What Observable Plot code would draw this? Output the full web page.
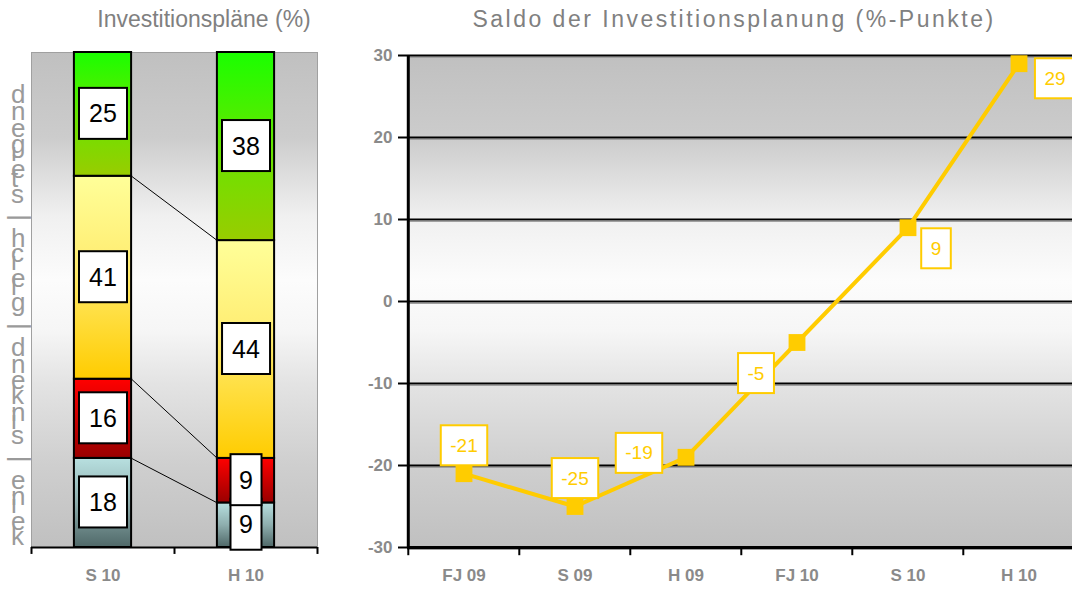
<!DOCTYPE html>
<html><head><meta charset="utf-8">
<script src="https://cdn.jsdelivr.net/npm/d3@7"></script>
<script src="https://cdn.jsdelivr.net/npm/@observablehq/plot@0.6"></script>
<style>
body{margin:0;background:#fff;font-family:"Liberation Sans",Arial,sans-serif;}
#wrap{position:relative;width:1072px;height:589px;overflow:hidden;background:#fff;}
.title{position:absolute;top:6px;font-size:23px;color:#808080;white-space:nowrap;transform:translateX(-50%);}
#left,#right{position:absolute;top:0;}
</style></head><body>
<div id="wrap">
<div class="title" style="left:204px">Investitionspläne (%)</div>
<div class="title" style="left:734px;letter-spacing:2.5px">Saldo der Investitionsplanung (%-Punkte)</div>
<div id="left" style="left:0"></div>
<div id="right" style="left:330px"></div>
</div>
<script>
// ---- data ----
const barCategories = ["S 10", "H 10"];
const answerLevels = ["keine", "sinkend", "gleich", "steigend"];
const shareS10 = [18, 16, 41, 25];
const shareH10 = [9, 9, 44, 38];
const axisLabelLeft = "keine | sinkend | gleich | steigend";
const periods = ["FJ 09", "S 09", "H 09", "FJ 10", "S 10", "H 10"];
const balance = [-21, -25, -19, -5, 9, 29];
const balanceTicks = [-30, -20, -10, 0, 10, 20, 30];

// ---- helpers ----
const FONT = "'Liberation Sans',Arial,sans-serif";
function addGradients(svg, grads) {
  const defs = d3.select(svg).insert("defs", ":first-child");
  for (const [id, stops] of grads) {
    const g = defs.append("linearGradient").attr("id", id)
      .attr("x1", 0).attr("y1", 0).attr("x2", 0).attr("y2", 1);
    stops.forEach(([o, c]) => g.append("stop").attr("offset", o).attr("stop-color", c));
  }
}
function boxify(svg, cls, sizeFn, stroke, sw) {
  d3.select(svg).selectAll(`g.${cls} text`).each(function () {
    const b = this.getBBox();
    const [w, h] = sizeFn(this.textContent, b);
    const cx = b.x + b.width / 2, cy = b.y + b.height / 2;
    const r = document.createElementNS("http://www.w3.org/2000/svg", "rect");
    r.setAttribute("x", cx - w / 2); r.setAttribute("y", cy - h / 2);
    r.setAttribute("width", w); r.setAttribute("height", h);
    r.setAttribute("fill", "#fff"); r.setAttribute("stroke", stroke); r.setAttribute("stroke-width", sw);
    const t = this.getAttribute("transform"); if (t) r.setAttribute("transform", t);
    this.parentNode.insertBefore(r, this);
  });
}
const bgStops = [[0, "#c0c0c0"], [0.17, "#cccccc"], [0.33, "#f0f0f0"], [0.46, "#fcfcfc"], [0.56, "#f6f6f6"], [0.67, "#e3e3e3"], [0.83, "#cfcfcf"], [1, "#c0c0c0"]];

// ---- left: stacked bars ----
const shares = [shareS10, shareH10];
const barRows = [];
barCategories.forEach((c, i) => {
  let acc = 0;
  answerLevels.forEach((lv, j) => {
    const v = shares[i][j];
    barRows.push({cat: c, i, level: lv, value: v, y1: acc, y2: acc + v});
    acc += v;
  });
});
const n = answerLevels.length;
const connectors = d3.range(n - 1).map(j => ({a: barRows[j].y2, b: barRows[n + j].y2}));
const halfW = 0.2;

const left = Plot.plot({
  width: 335, height: 589,
  marginLeft: 31, marginRight: 18, marginTop: 52, marginBottom: 42,
  x: {type: "linear", domain: [-0.5, 1.5], label: null},
  y: {domain: [0, 100], axis: null, label: null},
  style: {background: "transparent", fontFamily: FONT},
  marks: [
    Plot.frame({fill: "url(#bgL)", stroke: "#a0a0a0"}),
    Plot.link(connectors, {x1: halfW, x2: 1 - halfW, y1: "a", y2: "b", stroke: "#000", strokeWidth: 1}),
    Plot.rect(barRows, {x1: d => d.i - halfW, x2: d => d.i + halfW, y1: "y1", y2: "y2",
      fill: d => `url(#g-${d.level})`, stroke: "#000", strokeWidth: 2}),
    Plot.ruleY([0], {stroke: "#000", strokeWidth: 2}),
    Plot.ruleX([-0.5, 0.5, 1.5], {y1: 0, y2: -1.4, stroke: "#000", strokeWidth: 2}),
    Plot.axisX({ticks: [0, 1], tickFormat: i => barCategories[i], tickSize: 0, tickPadding: 21,
      fontSize: 17, fontWeight: "bold", fill: "#8a8a8a", label: null}),
    Plot.text(barRows, {x: "i", y: d => (d.y1 + d.y2) / 2, text: d => String(d.value),
      fontSize: 25, fill: "#000", className: "boxlbl"})
  ]
});
addGradients(left, [
  ["bgL", bgStops],
  ["g-steigend", [[0, "#1aff00"], [0.5, "#66e600"], [1, "#99cc00"]]],
  ["g-gleich", [[0, "#ffff99"], [0.45, "#ffec70"], [1, "#ffcc00"]]],
  ["g-sinkend", [[0, "#ff0000"], [1, "#990000"]]],
  ["g-keine", [[0, "#b8e0e0"], [0.5, "#8eaeae"], [1, "#4f6868"]]]
]);
document.getElementById("left").appendChild(left);
boxify(left, "boxlbl", (t) => [t.length < 2 ? 31 : 48, 51], "#000", 2);

// stacked vertical axis label: rotated text with upright glyphs (separators lie flat)
{
  const chars = [...axisLabelLeft];
  const isBar = chars.map(c => c === "|");
  const rot = chars.map((c, i) => isBar[i] ? 0 : 90).join(" ");
  const shift = 15;
  const dys = chars.map((c, i) => (isBar[i] ? shift : 0) - (i > 0 && isBar[i - 1] ? shift : 0)).join(" ");
  d3.select(left).append("text")
    .attr("transform", "translate(11,545) rotate(-90)")
    .attr("text-anchor", "start")
    .attr("rotate", rot)
    .attr("dy", dys)
    .attr("textLength", 456).attr("lengthAdjust", "spacing")
    .attr("font-size", 26).attr("font-family", FONT).attr("fill", "#9a9a9a")
    .text(axisLabelLeft);
}

// ---- right: line chart ----
const lineRows = periods.map((p, i) => ({period: p, value: balance[i]}));
const R0 = 77, R1 = 745.5, bw = (R1 - R0) / periods.length;
const labelBase = {x: "period", y: "value", text: d => String(d.value), fill: "#ffcc00",
  fontSize: 19, fontFamily: FONT, className: "rlbl"};
const placed = (keys, dx, dy) => Plot.text(lineRows.filter(d => keys.includes(d.period)), {...labelBase, dx, dy});

const right = Plot.plot({
  width: 742, height: 589,
  marginLeft: R0, marginRight: 0, marginTop: 55, marginBottom: 42,
  x: {type: "band", domain: periods, range: [R0, R1], padding: 0, label: null},
  y: {domain: [-30, 30], label: null},
  style: {background: "transparent", fontFamily: FONT},
  marks: [
    Plot.frame({fill: "url(#bgR)", stroke: null}),
    Plot.ruleY(balanceTicks, {stroke: "#a0a0a0", strokeWidth: 1, dy: 2}),
    Plot.ruleY(balanceTicks, {stroke: "#000", strokeWidth: 2.2}),
    Plot.ruleY([-30], {stroke: "#000", strokeWidth: 3}),
    Plot.ruleX([periods[0]], {dx: -bw / 2, y1: -30, y2: 30, stroke: "#000", strokeWidth: 3}),
    Plot.ruleX(periods, {x: d => d, dx: -bw / 2, y1: -30, y2: -31, stroke: "#000", strokeWidth: 2}),
    Plot.axisY({ticks: balanceTicks, tickSize: 9, tickPadding: 6, tickFormat: d => String(d),
      stroke: "#000", strokeWidth: 2, fill: "#8a8a8a", fontSize: 17, fontWeight: "bold", label: null}),
    Plot.axisX({tickSize: 0, tickPadding: 21, fontSize: 17, fontWeight: "bold", fill: "#8a8a8a", label: null}),
    Plot.line(lineRows, {x: "period", y: "value", stroke: "#ffcc00", strokeWidth: 4}),
    Plot.dot(lineRows, {x: "period", y: "value", symbol: "square", r: 9.5, fill: "#ffcc00", stroke: null}),
    placed(["FJ 09", "S 09"], 0, -28),
    placed(["H 09"], -47, -4),
    placed(["FJ 10"], -41, 31),
    placed(["S 10"], 28, 21),
    placed(["H 10"], 36, 15)
  ]
});
addGradients(right, [["bgR", bgStops]]);
document.getElementById("right").appendChild(right);
boxify(right, "rlbl", (t, b) => [b.width + 19, 40], "#ffcc00", 2);
</script>
</body></html>
